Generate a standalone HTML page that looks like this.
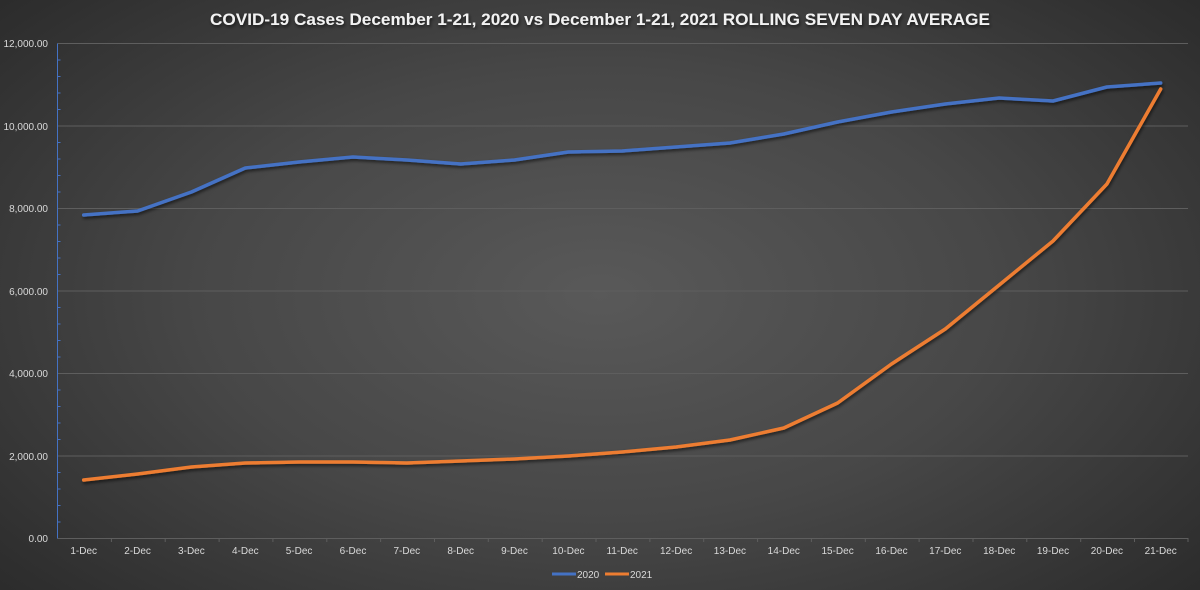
<!DOCTYPE html>
<html><head><meta charset="utf-8"><style>
html,body{margin:0;padding:0;width:1200px;height:590px;overflow:hidden;}
body{background:radial-gradient(ellipse 75% 85% at 50% 50%, #595959 0%, #474747 45%, #2e2e2e 85%, #262626 100%);}
svg{position:absolute;left:0;top:0;}
text{font-family:"Liberation Sans",sans-serif;fill:#d9d9d9;}
</style></head><body>
<svg width="1200" height="590" viewBox="0 0 1200 590">
<defs><filter id="sh" x="-5%" y="-5%" width="110%" height="110%"><feDropShadow dx="1" dy="2" stdDeviation="1.5" flood-color="#000" flood-opacity="0.6"/></filter></defs>
<text x="600" y="25" text-anchor="middle" font-size="16.5" font-weight="bold" textLength="780" lengthAdjust="spacingAndGlyphs" style="fill:#f2f2f2" filter="url(#sh)">COVID-19 Cases December 1-21, 2020 vs December 1-21, 2021 ROLLING SEVEN DAY AVERAGE</text>
<g stroke="#5e5e5e" stroke-width="1">
<line x1="57.5" y1="43.5" x2="1188" y2="43.5"/>
<line x1="57.5" y1="126" x2="1188" y2="126"/>
<line x1="57.5" y1="208.5" x2="1188" y2="208.5"/>
<line x1="57.5" y1="291" x2="1188" y2="291"/>
<line x1="57.5" y1="373.5" x2="1188" y2="373.5"/>
<line x1="57.5" y1="456" x2="1188" y2="456"/>
<line x1="57.5" y1="538.5" x2="1188" y2="538.5"/>
</g>
<g stroke="#5e5e5e">
<path d="M111.4 538v4M165.2 538v4M219.1 538v4M272.9 538v4M326.8 538v4M380.6 538v4M434.5 538v4M488.3 538v4M542.2 538v4M596 538v4M649.9 538v4M703.7 538v4M757.6 538v4M811.4 538v4M865.3 538v4M919.1 538v4M973 538v4M1026.8 538v4M1080.7 538v4M1134.5 538v4M1188 538v4"/>
</g>
<line x1="57.5" y1="43.5" x2="57.5" y2="538.5" stroke="#4472c4" stroke-width="1"/>
<g stroke="#4472c4"><path d="M57.5 60h3M57.5 76.5h3M57.5 93h3M57.5 109.5h3M57.5 142.5h3M57.5 159h3M57.5 175.5h3M57.5 192h3M57.5 225h3M57.5 241.5h3M57.5 258h3M57.5 274.5h3M57.5 307.5h3M57.5 324h3M57.5 340.5h3M57.5 357h3M57.5 390h3M57.5 406.5h3M57.5 423h3M57.5 439.5h3M57.5 472.5h3M57.5 489h3M57.5 505.5h3M57.5 522h3"/></g>
<g font-size="10" text-anchor="end">
<text x="48" y="47">12,000.00</text>
<text x="48" y="130">10,000.00</text>
<text x="48" y="212">8,000.00</text>
<text x="48" y="295">6,000.00</text>
<text x="48" y="377">4,000.00</text>
<text x="48" y="460">2,000.00</text>
<text x="48" y="542">0.00</text>
</g>
<g font-size="10" text-anchor="middle">
<text x="83.7" y="554">1-Dec</text><text x="137.6" y="554">2-Dec</text><text x="191.4" y="554">3-Dec</text><text x="245.3" y="554">4-Dec</text><text x="299.1" y="554">5-Dec</text><text x="353" y="554">6-Dec</text><text x="406.8" y="554">7-Dec</text><text x="460.7" y="554">8-Dec</text><text x="514.5" y="554">9-Dec</text><text x="568.4" y="554">10-Dec</text><text x="622.2" y="554">11-Dec</text><text x="676.1" y="554">12-Dec</text><text x="729.9" y="554">13-Dec</text><text x="783.8" y="554">14-Dec</text><text x="837.6" y="554">15-Dec</text><text x="891.5" y="554">16-Dec</text><text x="945.3" y="554">17-Dec</text><text x="999.2" y="554">18-Dec</text><text x="1053" y="554">19-Dec</text><text x="1106.9" y="554">20-Dec</text><text x="1160.7" y="554">21-Dec</text>
</g>
<g fill="none" stroke-width="3.5" stroke-linejoin="round" stroke-linecap="round" filter="url(#sh)">
<polyline stroke="#4472c4" points="83.7,215 137.6,211 191.4,192 245.3,168 299.1,162 353,157 406.8,160 460.7,164 514.5,160 568.4,152 622.2,151 676.1,147 729.9,143 783.8,134 837.6,122 891.5,112 945.3,104 999.2,98 1053,101 1106.9,87 1160.7,83"/>
<polyline stroke="#ed7d31" points="83.7,480 137.6,474 191.4,467 245.3,463 299.1,462 353,462 406.8,463 460.7,461 514.5,459 568.4,456 622.2,452 676.1,447 729.9,440 783.8,428 837.6,403 891.5,364 945.3,329 999.2,285 1053,241 1106.9,184 1160.7,89"/>
</g>
<line x1="552" y1="574" x2="576" y2="574" stroke="#4472c4" stroke-width="3"/>
<text x="577" y="578" font-size="10">2020</text>
<line x1="605" y1="574" x2="629" y2="574" stroke="#ed7d31" stroke-width="3"/>
<text x="630" y="578" font-size="10">2021</text>
</svg>
</body></html>
